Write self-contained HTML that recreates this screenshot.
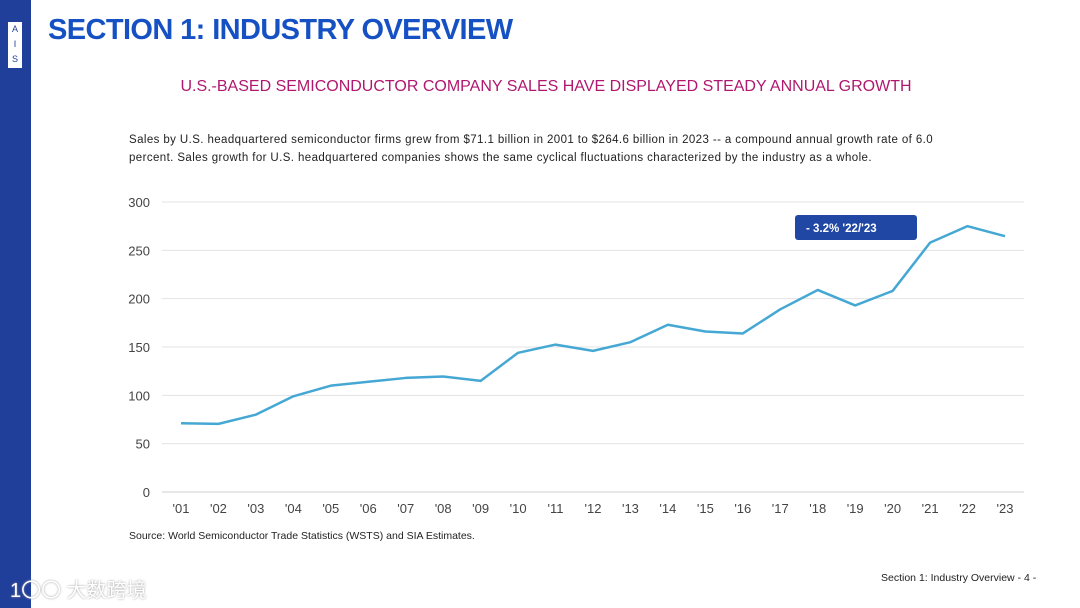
<!DOCTYPE html>
<html><head><meta charset="utf-8"><style>
body{margin:0;width:1080px;height:608px;background:#fff;position:relative;overflow:hidden;font-family:"Liberation Sans","Noto Sans CJK SC",sans-serif}
.side{position:absolute;left:0;top:0;width:31px;height:608px;background:#203f9a}
.sia{position:absolute;left:8px;top:22px;width:14px;height:46px;background:#fff;color:#203f9a;font-size:9px;text-align:center;line-height:15px}
.t{position:absolute;left:48px;top:14px;font-size:29px;font-weight:bold;color:#1651c4;letter-spacing:-0.6px}
.sub{position:absolute;left:170px;width:752px;text-align:center;top:78px;font-size:16px;color:#b0186f;white-space:nowrap}
.desc{position:absolute;left:129px;top:131px;width:830px;font-size:11.5px;letter-spacing:0.4px;color:#222;line-height:18px}
.src{position:absolute;left:129px;top:530px;font-size:10.5px;color:#222}
.foot{position:absolute;left:881px;top:572px;font-size:10.5px;color:#222}
.wm{position:absolute;left:10px;top:574px;font-size:20px;color:#fff;text-shadow:0 0 2px #999}
</style></head><body>
<div class="side"><div class="sia">A<br>I<br>S</div></div>
<div class="t">SECTION 1: INDUSTRY OVERVIEW</div>
<div class="sub">U.S.-BASED SEMICONDUCTOR COMPANY SALES HAVE DISPLAYED STEADY ANNUAL GROWTH</div>
<div class="desc">Sales by U.S. headquartered semiconductor firms grew from $71.1 billion in 2001 to $264.6 billion in 2023 -- a compound annual growth rate of 6.0 percent. Sales growth for U.S. headquartered companies shows the same cyclical fluctuations characterized by the industry as a whole.</div>
<svg id="c" width="1080" height="608" style="position:absolute;left:0;top:0"></svg>
<div class="src">Source: World Semiconductor Trade Statistics (WSTS) and SIA Estimates.</div>
<div class="foot">Section 1: Industry Overview - 4 -</div>
<div class="wm">1〇〇 大数跨境</div>
<script>
const categories=["'01","'02","'03","'04","'05","'06","'07","'08","'09","'10","'11","'12","'13","'14","'15","'16","'17","'18","'19","'20","'21","'22","'23"];
const sales=[71.1,70.5,80,99,110,114,118,119.5,115,144,152.5,146,155,173,166,164,189,209,193,208,258,275,264.6];
const yTicks=[0,50,100,150,200,250,300];
const NS="http://www.w3.org/2000/svg",svg=document.getElementById('c');
const x=i=>181+i*(1005-181)/(categories.length-1);
const y=v=>492-v*(290/300);
function mk(t,a,txt){const e=document.createElementNS(NS,t);for(const k in a)e.setAttribute(k,a[k]);if(txt!=null)e.textContent=txt;svg.appendChild(e);return e;}
yTicks.forEach(v=>{
const l=mk('line',{x1:162,x2:1024,y1:y(v),y2:y(v),stroke:v?'#e3e3e3':'#cfcfcf','stroke-width':1});


const t=mk('text',{x:150,y:y(v)+5,'text-anchor':'end','font-size':13,fill:'#444','font-family':'Liberation Sans'},v);


});
categories.forEach((c,i)=>{
const t=mk('text',{x:x(i),y:513,'text-anchor':'middle','font-size':13,fill:'#444','font-family':'Liberation Sans'},c);


});
const p=mk('polyline',{points:sales.map((v,i)=>x(i)+','+y(v)).join(' '),fill:'none',stroke:'#45a8d4','stroke-width':2.5,'stroke-linejoin':'round'});


const r=mk('rect',{x:795,y:215,width:122,height:25,rx:3,fill:'#1f47a3'});


const ct=mk('text',{x:806,y:232,'font-size':11.5,'font-weight':'bold',fill:'#fff','font-family':'Liberation Sans'},"- 3.2% '22/'23");


</script>
</body></html>
